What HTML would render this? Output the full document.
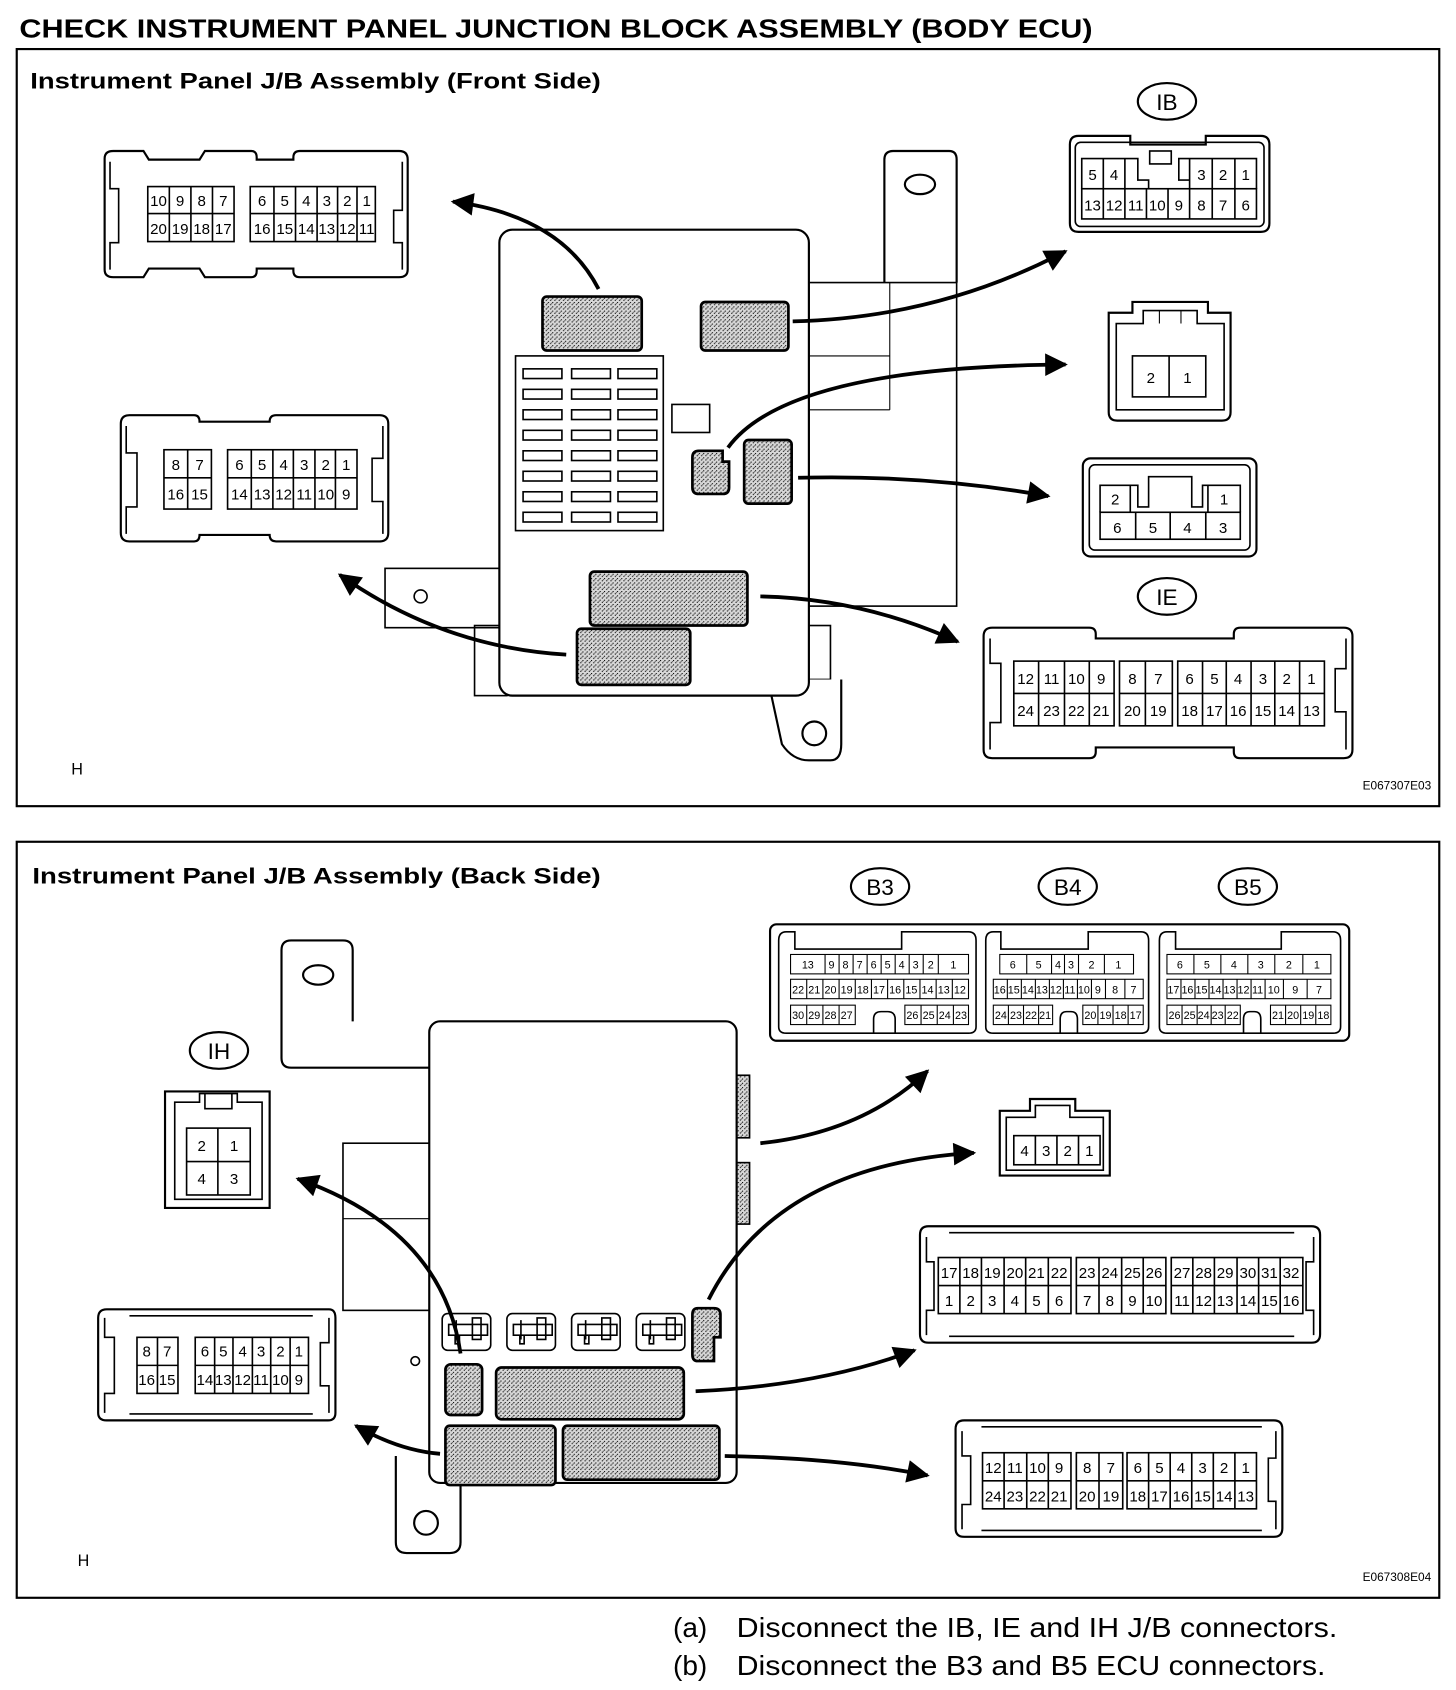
<!DOCTYPE html>
<html><head><meta charset="utf-8"><style>
html,body{margin:0;padding:0;background:#fff}
svg{display:block}
text{font-family:"Liberation Sans",Arial,sans-serif;fill:#000}
.c text{font-size:14px;text-anchor:middle}
.s text{font-size:10px;text-anchor:middle}
</style></head><body>
<svg width="1456" height="1690" viewBox="0 0 1350 1567" xmlns="http://www.w3.org/2000/svg">
<defs>
<pattern id="dot" width="4" height="4" patternUnits="userSpaceOnUse"><rect width="4" height="4" fill="#d8d8d8"/><rect x="0" y="0" width="1" height="1" fill="#000"/><rect x="2" y="2" width="1" height="1" fill="#000"/><rect x="3" y="1" width="1" height="1" fill="#555"/></pattern>
<marker id="ah" viewBox="0 0 10 10" refX="9" refY="5" markerWidth="7" markerHeight="6" orient="auto" markerUnits="strokeWidth"><path d="M0,0 L10,5 L0,10 z" fill="#000"/></marker>
</defs>
<g fill="none" stroke="#000">
<text x="18" y="35" font-size="24" font-weight="bold" textLength="995" lengthAdjust="spacingAndGlyphs" stroke="none">CHECK INSTRUMENT PANEL JUNCTION BLOCK ASSEMBLY (BODY ECU)</text>
<rect x="15.5" y="45.5" width="1319" height="702" stroke-width="2"/>
<rect x="15.5" y="780.5" width="1319" height="701" stroke-width="2"/>
<text x="28" y="82" font-size="21" font-weight="bold" textLength="529" lengthAdjust="spacingAndGlyphs" stroke="none">Instrument Panel J/B Assembly (Front Side)</text>
<text x="30" y="819" font-size="21" font-weight="bold" textLength="527" lengthAdjust="spacingAndGlyphs" stroke="none">Instrument Panel J/B Assembly (Back Side)</text>
<text x="66" y="718" font-size="15" stroke="none">H</text>
<text x="72" y="1452" font-size="15" stroke="none">H</text>
<text x="1327" y="732" font-size="11" stroke="none" text-anchor="end">E067307E03</text>
<text x="1327" y="1466" font-size="11" stroke="none" text-anchor="end">E067308E04</text>
<text x="624" y="1518" font-size="26" stroke="none">(a)</text>
<text x="683" y="1518" font-size="26" stroke="none" textLength="557" lengthAdjust="spacingAndGlyphs">Disconnect the IB, IE and IH J/B connectors.</text>
<text x="624" y="1553" font-size="26" stroke="none">(b)</text>
<text x="683" y="1553" font-size="26" stroke="none" textLength="546" lengthAdjust="spacingAndGlyphs">Disconnect the B3 and B5 ECU connectors.</text>

<!-- FRONT BODY -->
<path d="M820,262 V148 Q820,140 828,140 H880 Q887,140 887,148 V262" stroke-width="2"/>
<ellipse cx="853" cy="171" rx="14" ry="9" stroke-width="2"/>
<rect x="750" y="262" width="137" height="300" stroke-width="1.5" fill="#fff"/>
<line x1="750" y1="330" x2="825" y2="330"/><line x1="750" y1="380" x2="825" y2="380"/><line x1="825" y1="262" x2="825" y2="380"/>
<rect x="357" y="527" width="110" height="55" stroke-width="1.5"/><circle cx="390" cy="553" r="6" stroke-width="1.5"/>
<rect x="440" y="580" width="30" height="65" stroke-width="1.5"/>
<rect x="745" y="580" width="25" height="50" stroke-width="1.5"/>
<path d="M712,630 L725,690 Q735,705 750,705 H770 Q780,705 780,690 V630" stroke-width="2" fill="#fff"/>
<circle cx="755" cy="680" r="11" stroke-width="2"/>
<rect x="463" y="213" width="287" height="432" rx="12" stroke-width="2" fill="#fff"/>
<rect x="478" y="330" width="137" height="162" stroke-width="1.5"/>
<g stroke-width="1.5">
<rect x="485" y="342" width="36" height="9"/><rect x="530" y="342" width="36" height="9"/><rect x="573" y="342" width="36" height="9"/>
<rect x="485" y="361" width="36" height="9"/><rect x="530" y="361" width="36" height="9"/><rect x="573" y="361" width="36" height="9"/>
<rect x="485" y="380" width="36" height="9"/><rect x="530" y="380" width="36" height="9"/><rect x="573" y="380" width="36" height="9"/>
<rect x="485" y="399" width="36" height="9"/><rect x="530" y="399" width="36" height="9"/><rect x="573" y="399" width="36" height="9"/>
<rect x="485" y="418" width="36" height="9"/><rect x="530" y="418" width="36" height="9"/><rect x="573" y="418" width="36" height="9"/>
<rect x="485" y="437" width="36" height="9"/><rect x="530" y="437" width="36" height="9"/><rect x="573" y="437" width="36" height="9"/>
<rect x="485" y="456" width="36" height="9"/><rect x="530" y="456" width="36" height="9"/><rect x="573" y="456" width="36" height="9"/>
<rect x="485" y="475" width="36" height="9"/><rect x="530" y="475" width="36" height="9"/><rect x="573" y="475" width="36" height="9"/>
</g>
<rect x="623" y="375" width="35" height="26" stroke-width="1.5"/>
<g fill="url(#dot)" stroke-width="2.5">
<rect x="503" y="275" width="92" height="50" rx="4"/>
<rect x="650" y="280" width="81" height="45" rx="4"/>
<rect x="690" y="408" width="44" height="59" rx="4"/>
<path d="M648,418 H670 V428 H676 V452 Q676,458 670,458 H648 Q642,458 642,452 V424 Q642,418 648,418z"/>
<rect x="547" y="530" width="146" height="50" rx="4"/>
<rect x="535" y="583" width="105" height="52" rx="4"/>
</g>
<g stroke-width="3.5" marker-end="url(#ah)">
<path d="M555,268 Q520,200 420,187"/>
<path d="M735,298 Q870,295 988,233"/>
<path d="M675,415 Q730,340 988,338"/>
<path d="M740,443 Q860,440 972,460"/>
<path d="M525,607 Q410,600 315,533"/>
<path d="M705,553 Q800,555 888,595"/>
</g>

<!-- Front connector A -->
<g stroke-width="2">
<path d="M105,140 H133 L138,148 H185 L190,140 H233 Q238,140 238,146 V148 H272 V146 Q272,140 278,140 H370 Q378,140 378,148 V250 Q378,257 370,257 H278 Q272,257 272,251 V249 H238 V251 Q238,257 233,257 H190 L185,249 H138 L133,257 H105 Q97,257 97,250 V147 Q97,140 105,140z"/>
<path d="M102,150 V175 H110 V225 H102 V250" stroke-width="1.5"/>
<path d="M373,150 V195 H365 V225 H373 V250" stroke-width="1.5"/>
</g>
<g class="c" stroke-width="1.5">
<rect x="137" y="173" width="80" height="51"/><line x1="137" y1="198" x2="217" y2="198"/>
<line x1="157" y1="173" x2="157" y2="224"/><line x1="177" y1="173" x2="177" y2="224"/><line x1="197" y1="173" x2="197" y2="224"/>
<rect x="232" y="173" width="116" height="51"/><line x1="232" y1="198" x2="348" y2="198"/>
<line x1="254" y1="173" x2="254" y2="224"/><line x1="274" y1="173" x2="274" y2="224"/><line x1="294" y1="173" x2="294" y2="224"/><line x1="313" y1="173" x2="313" y2="224"/><line x1="331" y1="173" x2="331" y2="224"/>
<g stroke="none"><text x="147" y="191">10</text><text x="167" y="191">9</text><text x="187" y="191">8</text><text x="207" y="191">7</text>
<text x="243" y="191">6</text><text x="264" y="191">5</text><text x="284" y="191">4</text><text x="303" y="191">3</text><text x="322" y="191">2</text><text x="340" y="191">1</text>
<text x="147" y="217" font-size="13">20</text><text x="167" y="217" font-size="13">19</text><text x="187" y="217" font-size="13">18</text><text x="207" y="217" font-size="13">17</text>
<text x="243" y="217" font-size="13">16</text><text x="264" y="217" font-size="13">15</text><text x="284" y="217" font-size="13">14</text><text x="303" y="217" font-size="13">13</text><text x="322" y="217" font-size="13">12</text><text x="340" y="217" font-size="13">11</text></g>
</g>

<!-- Front connector B -->
<path d="M120,385 H180 Q185,385 185,391 H250 Q250,385 256,385 H352 Q360,385 360,393 V494 Q360,502 352,502 H256 Q250,502 250,496 H185 Q185,502 180,502 H120 Q112,502 112,494 V393 Q112,385 120,385z" stroke-width="2"/>
<path d="M117,395 V420 H127 V470 H117 V495" stroke-width="1.5"/><path d="M355,395 V425 H345 V465 H355 V495" stroke-width="1.5"/>
<g class="c" stroke-width="1.5">
<rect x="152" y="417" width="44" height="55"/><line x1="152" y1="443" x2="196" y2="443"/><line x1="174" y1="417" x2="174" y2="472"/>
<rect x="211" y="417" width="120" height="55"/><line x1="211" y1="443" x2="331" y2="443"/>
<line x1="233" y1="417" x2="233" y2="472"/><line x1="253" y1="417" x2="253" y2="472"/><line x1="272" y1="417" x2="272" y2="472"/><line x1="292" y1="417" x2="292" y2="472"/><line x1="311" y1="417" x2="311" y2="472"/>
<g stroke="none"><text x="163" y="436">8</text><text x="185" y="436">7</text><text x="163" y="463" font-size="13">16</text><text x="185" y="463" font-size="13">15</text>
<text x="222" y="436">6</text><text x="243" y="436">5</text><text x="263" y="436">4</text><text x="282" y="436">3</text><text x="302" y="436">2</text><text x="321" y="436">1</text>
<text x="222" y="463" font-size="13">14</text><text x="243" y="463" font-size="13">13</text><text x="263" y="463" font-size="13">12</text><text x="282" y="463" font-size="13">11</text><text x="302" y="463" font-size="13">10</text><text x="321" y="463">9</text></g>
</g>

<!-- IB -->
<ellipse cx="1082" cy="94" rx="27" ry="17" stroke-width="2"/><text x="1082" y="102" font-size="21" text-anchor="middle" stroke="none">IB</text>
<path d="M1000,126 H1048 V134 H1118 V126 H1169 Q1177,126 1177,134 V207 Q1177,215 1169,215 H1000 Q992,215 992,207 V134 Q992,126 1000,126z" stroke-width="2"/>
<rect x="997" y="132" width="175" height="78" rx="5" stroke-width="1.5"/>
<g class="c" stroke-width="1.5">
<path d="M1003,175 V147 H1043 V175 M1023,147 V175 M1043,147 H1055 V167 H1065 V175 M1103,147 V175 M1103,167 H1093 V147 H1165 V175 M1124,147 V203 M1145,147 V203"/>
<rect x="1003" y="175" width="162" height="28"/>
<line x1="1023" y1="175" x2="1023" y2="203"/><line x1="1043" y1="175" x2="1043" y2="203"/><line x1="1063" y1="175" x2="1063" y2="203"/><line x1="1083" y1="175" x2="1083" y2="203"/><line x1="1103" y1="175" x2="1103" y2="203"/>
<rect x="1066" y="140" width="20" height="12"/>
<g stroke="none"><text x="1013" y="167">5</text><text x="1033" y="167">4</text><text x="1114" y="167">3</text><text x="1134" y="167">2</text><text x="1155" y="167">1</text>
<text x="1013" y="195" font-size="13">13</text><text x="1033" y="195" font-size="13">12</text><text x="1053" y="195" font-size="13">11</text><text x="1073" y="195" font-size="13">10</text><text x="1093" y="195">9</text><text x="1114" y="195">8</text><text x="1134" y="195">7</text><text x="1155" y="195">6</text></g>
</g>

<!-- 2-pin -->
<path d="M1050,280 H1120 V290 H1141 V382 Q1141,390 1133,390 H1036 Q1028,390 1028,382 V290 H1050z" stroke-width="2"/>
<path d="M1035,300 H1060 V288 H1110 V300 H1135 V380 H1035z" stroke-width="1.5"/>
<path d="M1075,288 V300 M1095,288 V300"/>
<g class="c" stroke-width="1.5"><rect x="1050" y="330" width="68" height="38"/><line x1="1084" y1="330" x2="1084" y2="368"/>
<g stroke="none"><text x="1067" y="355">2</text><text x="1101" y="355">1</text></g></g>

<!-- 6-pin -->
<rect x="1004" y="425" width="161" height="91" rx="7" stroke-width="2"/>
<rect x="1010" y="431" width="149" height="79" rx="5" stroke-width="1.5"/>
<g class="c" stroke-width="1.5">
<path d="M1020,475 V450 H1048 V475 M1048,450 H1055 V470 H1065 V442 H1105 V470 H1115 V450 H1150 V475 M1120,450 V475"/>
<rect x="1020" y="475" width="130" height="25"/><line x1="1053" y1="475" x2="1053" y2="500"/><line x1="1085" y1="475" x2="1085" y2="500"/><line x1="1118" y1="475" x2="1118" y2="500"/>
<g stroke="none"><text x="1034" y="468">2</text><text x="1135" y="468">1</text><text x="1036" y="494">6</text><text x="1069" y="494">5</text><text x="1101" y="494">4</text><text x="1134" y="494">3</text></g>
</g>

<!-- IE -->
<ellipse cx="1082" cy="553" rx="27" ry="17" stroke-width="2"/><text x="1082" y="561" font-size="21" text-anchor="middle" stroke="none">IE</text>
<path d="M920,582 H1010 Q1016,582 1016,588 V592 H1144 V588 Q1144,582 1150,582 H1246 Q1254,582 1254,590 V695 Q1254,703 1246,703 H1150 Q1144,703 1144,697 V693 H1016 V697 Q1016,703 1010,703 H920 Q912,703 912,695 V590 Q912,582 920,582z" stroke-width="2"/>
<path d="M918,592 V615 H928 V670 H918 V695 M1248,592 V620 H1238 V660 H1248 V695" stroke-width="1.5"/>
<g class="c" stroke-width="1.5">
<rect x="940" y="613" width="93" height="60"/><line x1="940" y1="643" x2="1033" y2="643"/><line x1="963" y1="613" x2="963" y2="673"/><line x1="987" y1="613" x2="987" y2="673"/><line x1="1010" y1="613" x2="1010" y2="673"/>
<rect x="1038" y="613" width="49" height="60"/><line x1="1038" y1="643" x2="1087" y2="643"/><line x1="1062" y1="613" x2="1062" y2="673"/>
<rect x="1092" y="613" width="136" height="60"/><line x1="1092" y1="643" x2="1228" y2="643"/>
<line x1="1115" y1="613" x2="1115" y2="673"/><line x1="1137" y1="613" x2="1137" y2="673"/><line x1="1160" y1="613" x2="1160" y2="673"/><line x1="1182" y1="613" x2="1182" y2="673"/><line x1="1205" y1="613" x2="1205" y2="673"/>
<g stroke="none" font-size="15"><text x="951" y="634">12</text><text x="975" y="634">11</text><text x="998" y="634">10</text><text x="1021" y="634">9</text><text x="1050" y="634">8</text><text x="1074" y="634">7</text>
<text x="1103" y="634">6</text><text x="1126" y="634">5</text><text x="1148" y="634">4</text><text x="1171" y="634">3</text><text x="1193" y="634">2</text><text x="1216" y="634">1</text>
<text x="951" y="664">24</text><text x="975" y="664">23</text><text x="998" y="664">22</text><text x="1021" y="664">21</text><text x="1050" y="664">20</text><text x="1074" y="664">19</text>
<text x="1103" y="664">18</text><text x="1126" y="664">17</text><text x="1148" y="664">16</text><text x="1171" y="664">15</text><text x="1193" y="664">14</text><text x="1216" y="664">13</text></g>
</g>

<!-- BACK BODY -->
<path d="M410,990 H270 Q261,990 261,981 V881 Q261,872 270,872 H318 Q327,872 327,881 V947" stroke-width="2"/>
<ellipse cx="295" cy="904" rx="14" ry="9" stroke-width="2"/>
<rect x="318" y="1060" width="82" height="155" stroke-width="1.5"/><line x1="318" y1="1130" x2="400" y2="1130"/>
<rect x="683" y="997" width="12" height="58" fill="url(#dot)" stroke-width="1.5"/>
<rect x="683" y="1078" width="12" height="57" fill="url(#dot)" stroke-width="1.5"/>
<path d="M367,1350 V1430 Q367,1440 377,1440 H417 Q427,1440 427,1430 V1375" stroke-width="2"/>
<circle cx="395" cy="1412" r="11" stroke-width="2"/>
<rect x="398" y="947" width="285" height="428" rx="10" stroke-width="2" fill="#fff"/>
<circle cx="385" cy="1262" r="4" stroke-width="1.5"/>
<g stroke-width="1.5">
<rect x="410" y="1218" width="45" height="34" rx="5"/><rect x="470" y="1218" width="45" height="34" rx="5"/><rect x="530" y="1218" width="45" height="34" rx="5"/><rect x="590" y="1218" width="45" height="34" rx="5"/>
<path d="M416,1228 h36 v10 h-36z M423,1224 v18 M438,1222 h8 v20 h-8z M422,1238 v8 h4 v-8"/>
<path d="M476,1228 h36 v10 h-36z M483,1224 v18 M498,1222 h8 v20 h-8z M482,1238 v8 h4 v-8"/>
<path d="M536,1228 h36 v10 h-36z M543,1224 v18 M558,1222 h8 v20 h-8z M542,1238 v8 h4 v-8"/>
<path d="M596,1228 h36 v10 h-36z M603,1224 v18 M618,1222 h8 v20 h-8z M602,1238 v8 h4 v-8"/>
</g>
<g fill="url(#dot)" stroke-width="2.5">
<path d="M647,1213 H662 Q668,1213 668,1219 V1240 H662 V1262 H647 Q642,1262 642,1256 V1219 Q642,1213 647,1213z"/>
<rect x="413" y="1265" width="34" height="47" rx="5"/>
<rect x="460" y="1268" width="174" height="48" rx="5"/>
<rect x="413" y="1322" width="102" height="55" rx="4"/>
<rect x="522" y="1322" width="145" height="50" rx="4"/>
</g>
<g stroke-width="3.5" marker-end="url(#ah)">
<path d="M427,1255 Q410,1140 276,1093"/>
<path d="M657,1205 Q720,1080 903,1069"/>
<path d="M705,1060 Q800,1050 860,993"/>
<path d="M645,1290 Q760,1285 848,1252"/>
<path d="M408,1348 Q370,1345 330,1322"/>
<path d="M672,1350 Q780,1352 860,1368"/>
</g>

<!-- IH -->
<ellipse cx="203" cy="974" rx="27" ry="17" stroke-width="2"/><text x="203" y="982" font-size="21" text-anchor="middle" stroke="none">IH</text>
<path d="M153,1012 H250 V1120 H153z" stroke-width="2"/>
<path d="M162,1022 H185 V1014 H220 V1022 H243 V1112 H162z M190,1014 V1028 H215 V1014" stroke-width="1.5"/>
<g class="c" stroke-width="1.5"><rect x="173" y="1046" width="59" height="62"/><line x1="173" y1="1077" x2="232" y2="1077"/><line x1="202" y1="1046" x2="202" y2="1108"/>
<g stroke="none"><text x="187" y="1067">2</text><text x="217" y="1067">1</text><text x="187" y="1098">4</text><text x="217" y="1098">3</text></g></g>

<!-- back left connector -->
<path d="M99,1214 H305 Q311,1214 311,1222 V1310 Q311,1317 304,1317 H99 Q91,1317 91,1310 V1222 Q91,1214 99,1214z" stroke-width="2"/>
<path d="M97,1222 V1240 H106 V1292 H97 V1310 M305,1222 V1245 H297 V1285 H305 V1310 M120,1220 H290 M120,1311 H290" stroke-width="1.5"/>
<g class="c" stroke-width="1.5">
<rect x="127" y="1240" width="38" height="52"/><line x1="127" y1="1266" x2="165" y2="1266"/><line x1="146" y1="1240" x2="146" y2="1292"/>
<rect x="181" y="1240" width="105" height="52"/><line x1="181" y1="1266" x2="286" y2="1266"/>
<line x1="199" y1="1240" x2="199" y2="1292"/><line x1="216" y1="1240" x2="216" y2="1292"/><line x1="234" y1="1240" x2="234" y2="1292"/><line x1="251" y1="1240" x2="251" y2="1292"/><line x1="269" y1="1240" x2="269" y2="1292"/>
<g stroke="none" font-size="13"><text x="136" y="1258">8</text><text x="155" y="1258">7</text><text x="136" y="1284">16</text><text x="155" y="1284">15</text>
<text x="190" y="1258">6</text><text x="207" y="1258">5</text><text x="225" y="1258">4</text><text x="242" y="1258">3</text><text x="260" y="1258">2</text><text x="277" y="1258">1</text>
<text x="190" y="1284">14</text><text x="207" y="1284">13</text><text x="225" y="1284">12</text><text x="242" y="1284">11</text><text x="260" y="1284">10</text><text x="277" y="1284">9</text></g>
</g>

<!-- B3 B4 B5 -->
<ellipse cx="816" cy="822" rx="27" ry="17" stroke-width="2"/><text x="816" y="830" font-size="21" text-anchor="middle" stroke="none">B3</text>
<ellipse cx="990" cy="822" rx="27" ry="17" stroke-width="2"/><text x="990" y="830" font-size="21" text-anchor="middle" stroke="none">B4</text>
<ellipse cx="1157" cy="822" rx="27" ry="17" stroke-width="2"/><text x="1157" y="830" font-size="21" text-anchor="middle" stroke="none">B5</text>
<rect x="714" y="857" width="537" height="108" rx="6" stroke-width="2"/>
<g stroke-width="1.5">
<path d="M729,864 H737 V880 H836 V864 H898 Q905,864 905,872 V952 Q905,958 898,958 H729 Q722,958 722,952 V872 Q722,864 729,864z"/>
<path d="M921,864 H928 V880 H1009 V864 H1058 Q1065,864 1065,872 V952 Q1065,958 1058,958 H921 Q914,958 914,952 V872 Q914,864 921,864z"/>
<path d="M1082,864 H1090 V880 H1188 V864 H1236 Q1243,864 1243,872 V952 Q1243,958 1236,958 H1082 Q1075,958 1075,952 V872 Q1075,864 1082,864z"/>
<path d="M810,958 V945 Q810,938 817,938 H823 Q830,938 830,945 V958 M983,958 V945 Q983,938 989,938 H993 Q999,938 999,945 V958 M1153,958 V945 Q1153,938 1159,938 H1163 Q1169,938 1169,945 V958"/>
</g>
<g class="s" stroke-width="1">
<rect x="733" y="885" width="165" height="18"/><path d="M765,885v18M778,885v18M791,885v18M804,885v18M817,885v18M830,885v18M843,885v18M856,885v18M870,885v18"/>
<rect x="733" y="908" width="165" height="18"/><path d="M748,908v18M763,908v18M778,908v18M793,908v18M808,908v18M823,908v18M838,908v18M853,908v18M868,908v18M883,908v18"/>
<rect x="733" y="932" width="60" height="18"/><path d="M748,932v18M763,932v18M778,932v18"/>
<rect x="839" y="932" width="59" height="18"/><path d="M854,932v18M869,932v18M884,932v18"/>
<g stroke="none"><text x="749" y="898">13</text><text x="771" y="898">9</text><text x="784" y="898">8</text><text x="797" y="898">7</text><text x="810" y="898">6</text><text x="823" y="898">5</text><text x="836" y="898">4</text><text x="849" y="898">3</text><text x="863" y="898">2</text><text x="884" y="898">1</text>
<text x="740" y="921">22</text><text x="755" y="921">21</text><text x="770" y="921">20</text><text x="785" y="921">19</text><text x="800" y="921">18</text><text x="815" y="921">17</text><text x="830" y="921">16</text><text x="845" y="921">15</text><text x="860" y="921">14</text><text x="875" y="921">13</text><text x="890" y="921">12</text>
<text x="740" y="945">30</text><text x="755" y="945">29</text><text x="770" y="945">28</text><text x="785" y="945">27</text><text x="846" y="945">26</text><text x="861" y="945">25</text><text x="876" y="945">24</text><text x="891" y="945">23</text></g>
<rect x="927" y="885" width="124" height="18"/><path d="M952,885v18M975,885v18M987,885v18M1000,885v18M1024,885v18"/>
<rect x="921" y="908" width="139" height="18"/><path d="M934,908v18M947,908v18M960,908v18M973,908v18M986,908v18M999,908v18M1012,908v18M1025,908v18M1043,908v18"/>
<rect x="921" y="932" width="55" height="18"/><path d="M935,932v18M949,932v18M963,932v18"/>
<rect x="1004" y="932" width="56" height="18"/><path d="M1018,932v18M1032,932v18M1046,932v18"/>
<g stroke="none"><text x="939" y="898">6</text><text x="963" y="898">5</text><text x="981" y="898">4</text><text x="993" y="898">3</text><text x="1012" y="898">2</text><text x="1037" y="898">1</text>
<text x="927" y="921">16</text><text x="940" y="921">15</text><text x="953" y="921">14</text><text x="966" y="921">13</text><text x="979" y="921">12</text><text x="992" y="921">11</text><text x="1005" y="921">10</text><text x="1018" y="921">9</text><text x="1034" y="921">8</text><text x="1051" y="921">7</text>
<text x="928" y="945">24</text><text x="942" y="945">23</text><text x="956" y="945">22</text><text x="969" y="945">21</text><text x="1011" y="945">20</text><text x="1025" y="945">19</text><text x="1039" y="945">18</text><text x="1053" y="945">17</text></g>
<rect x="1082" y="885" width="152" height="18"/><path d="M1107,885v18M1132,885v18M1157,885v18M1182,885v18M1208,885v18"/>
<rect x="1082" y="908" width="152" height="18"/><path d="M1095,908v18M1108,908v18M1121,908v18M1134,908v18M1147,908v18M1160,908v18M1173,908v18M1190,908v18M1212,908v18"/>
<rect x="1082" y="932" width="68" height="18"/><path d="M1096,932v18M1110,932v18M1123,932v18M1136,932v18"/>
<rect x="1178" y="932" width="56" height="18"/><path d="M1192,932v18M1206,932v18M1220,932v18"/>
<g stroke="none"><text x="1094" y="898">6</text><text x="1119" y="898">5</text><text x="1144" y="898">4</text><text x="1169" y="898">3</text><text x="1195" y="898">2</text><text x="1221" y="898">1</text>
<text x="1088" y="921">17</text><text x="1101" y="921">16</text><text x="1114" y="921">15</text><text x="1127" y="921">14</text><text x="1140" y="921">13</text><text x="1153" y="921">12</text><text x="1166" y="921">11</text><text x="1181" y="921">10</text><text x="1201" y="921">9</text><text x="1223" y="921">7</text>
<text x="1089" y="945">26</text><text x="1103" y="945">25</text><text x="1116" y="945">24</text><text x="1129" y="945">23</text><text x="1143" y="945">22</text><text x="1185" y="945">21</text><text x="1199" y="945">20</text><text x="1213" y="945">19</text><text x="1227" y="945">18</text></g>
</g>

<!-- 4-pin -->
<path d="M927,1030 H955 V1019 H997 V1030 H1029 V1090 H927z" stroke-width="2"/>
<path d="M933,1036 H960 V1025 H992 V1036 H1023 V1085 H933z" stroke-width="1.5"/>
<g class="c" stroke-width="1.5"><rect x="940" y="1053" width="80" height="27"/><path d="M960,1053v27M980,1053v27M1000,1053v27"/>
<g stroke="none"><text x="950" y="1072">4</text><text x="970" y="1072">3</text><text x="990" y="1072">2</text><text x="1010" y="1072">1</text></g></g>

<!-- 32-pin -->
<path d="M861,1137 H1216 Q1224,1137 1224,1145 V1237 Q1224,1245 1216,1245 H861 Q853,1245 853,1237 V1145 Q853,1137 861,1137z" stroke-width="2"/>
<path d="M859,1147 V1170 H866 V1215 H859 V1238 M1218,1147 V1170 H1211 V1215 H1218 V1238 M880,1143 H1200 M880,1239 H1200" stroke-width="1.5"/>
<g class="c" stroke-width="1.5">
<rect x="870" y="1166" width="123" height="52"/><line x1="870" y1="1192" x2="993" y2="1192"/><path d="M890,1166v52M910,1166v52M931,1166v52M951,1166v52M972,1166v52"/>
<rect x="998" y="1166" width="83" height="52"/><line x1="998" y1="1192" x2="1081" y2="1192"/><path d="M1019,1166v52M1040,1166v52M1060,1166v52"/>
<rect x="1086" y="1166" width="122" height="52"/><line x1="1086" y1="1192" x2="1208" y2="1192"/><path d="M1106,1166v52M1126,1166v52M1147,1166v52M1167,1166v52M1187,1166v52"/>
<g stroke="none" font-size="14"><text x="880" y="1185">17</text><text x="900" y="1185">18</text><text x="920" y="1185">19</text><text x="941" y="1185">20</text><text x="961" y="1185">21</text><text x="982" y="1185">22</text>
<text x="1008" y="1185">23</text><text x="1029" y="1185">24</text><text x="1050" y="1185">25</text><text x="1070" y="1185">26</text>
<text x="1096" y="1185">27</text><text x="1116" y="1185">28</text><text x="1136" y="1185">29</text><text x="1157" y="1185">30</text><text x="1177" y="1185">31</text><text x="1197" y="1185">32</text>
<text x="880" y="1211">1</text><text x="900" y="1211">2</text><text x="920" y="1211">3</text><text x="941" y="1211">4</text><text x="961" y="1211">5</text><text x="982" y="1211">6</text>
<text x="1008" y="1211">7</text><text x="1029" y="1211">8</text><text x="1050" y="1211">9</text><text x="1070" y="1211">10</text>
<text x="1096" y="1211">11</text><text x="1116" y="1211">12</text><text x="1136" y="1211">13</text><text x="1157" y="1211">14</text><text x="1177" y="1211">15</text><text x="1197" y="1211">16</text></g>
</g>

<!-- bottom right connector -->
<path d="M894,1317 H1181 Q1189,1317 1189,1325 V1417 Q1189,1425 1181,1425 H894 Q886,1425 886,1417 V1325 Q886,1317 894,1317z" stroke-width="2"/>
<path d="M892,1327 V1350 H900 V1395 H892 V1418 M1183,1327 V1352 H1176 V1392 H1183 V1418 M910,1323 H1170 M910,1419 H1170" stroke-width="1.5"/>
<g class="c" stroke-width="1.5">
<rect x="911" y="1347" width="82" height="52"/><line x1="911" y1="1373" x2="993" y2="1373"/><path d="M931,1347v52M952,1347v52M972,1347v52"/>
<rect x="998" y="1347" width="43" height="52"/><line x1="998" y1="1373" x2="1041" y2="1373"/><path d="M1019,1347v52"/>
<rect x="1045" y="1347" width="120" height="52"/><line x1="1045" y1="1373" x2="1165" y2="1373"/><path d="M1065,1347v52M1085,1347v52M1105,1347v52M1125,1347v52M1145,1347v52"/>
<g stroke="none"><text x="921" y="1366">12</text><text x="941" y="1366">11</text><text x="962" y="1366">10</text><text x="982" y="1366">9</text><text x="1008" y="1366">8</text><text x="1030" y="1366">7</text>
<text x="1055" y="1366">6</text><text x="1075" y="1366">5</text><text x="1095" y="1366">4</text><text x="1115" y="1366">3</text><text x="1135" y="1366">2</text><text x="1155" y="1366">1</text>
<text x="921" y="1392">24</text><text x="941" y="1392">23</text><text x="962" y="1392">22</text><text x="982" y="1392">21</text><text x="1008" y="1392">20</text><text x="1030" y="1392">19</text>
<text x="1055" y="1392">18</text><text x="1075" y="1392">17</text><text x="1095" y="1392">16</text><text x="1115" y="1392">15</text><text x="1135" y="1392">14</text><text x="1155" y="1392">13</text></g>
</g>
</g>
</svg>
</body></html>
